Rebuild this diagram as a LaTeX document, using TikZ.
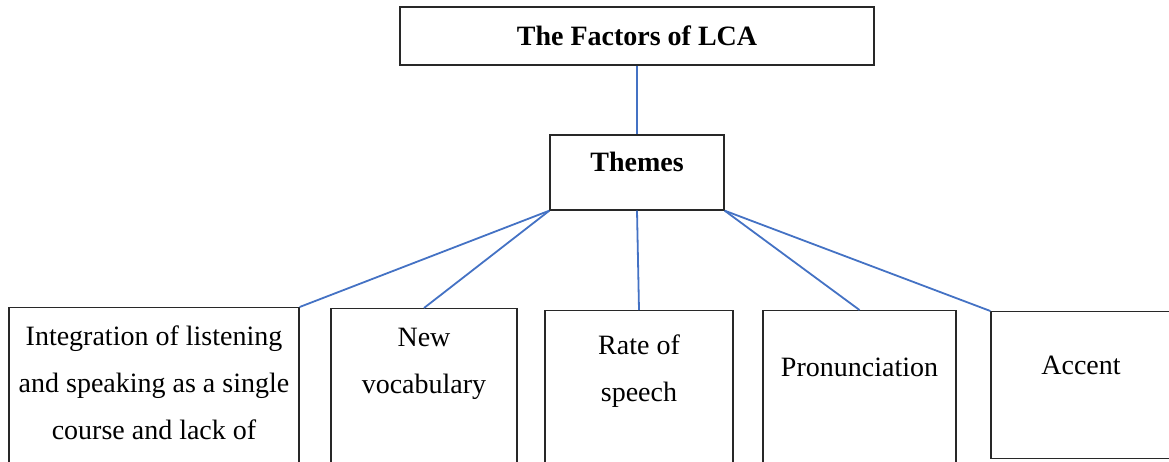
\documentclass[tikz,border=0pt]{standalone}
\usepackage{fontspec}
\setmainfont{Liberation Serif}
\usetikzlibrary{positioning}
\definecolor{linkblue}{RGB}{68,114,196}
\definecolor{boxline}{RGB}{40,40,40}

\begin{document}
\begin{tikzpicture}[x=1pt,y=-1pt,
    every node/.style={font=\fontsize{28}{47}\selectfont},
    box/.style={draw=boxline,line width=1.3pt,fill=white,inner sep=0pt},
    boxtext/.style={align=center,inner sep=0pt},
    link/.style={draw=linkblue,line width=1.8pt}]
  \clip (0,0) rectangle (1169,461);
  % top of the tree
  \node[box,minimum width=474pt,minimum height=58pt,font=\fontsize{28}{47}\selectfont\bfseries] (lca) at (637,36) {The Factors of LCA};
  \node[box,minimum width=174pt,minimum height=75pt] (th) at (637,172.5) {};
  \node[boxtext,anchor=base,font=\fontsize{28}{47}\selectfont\bfseries] (thtxt) at (637,171) {Themes};
  % the five factors
  \foreach \cx/\w/\h/\top/\ty/\txt [count=\i] in {
    154/290/190/307/326/{Integration of listening\\and speaking as a single\\course and lack of},
    424/186/190/308/328/{New\\vocabulary},
    639/188/190/310/335/{Rate of\\speech},
    859.5/193/190/310/358/Pronunciation,
    1081/180/147/311/356/Accent}
  {
    \node[box,anchor=north,minimum width=\w pt,minimum height=\h pt] (b\i) at (\cx,\top) {};
    \node[boxtext,anchor=north] (t\i) at (\cx,\ty) {\txt};
  }
  \draw[link] (lca.south) -- (th.north);
  \foreach \a/\b in {south west/b1.north east,south west/b2.north,south/b3.north,
    south east/b4.north,south east/b5.north west}
    \draw[link] (th.\a) -- (\b);
\end{tikzpicture}
\end{document}
